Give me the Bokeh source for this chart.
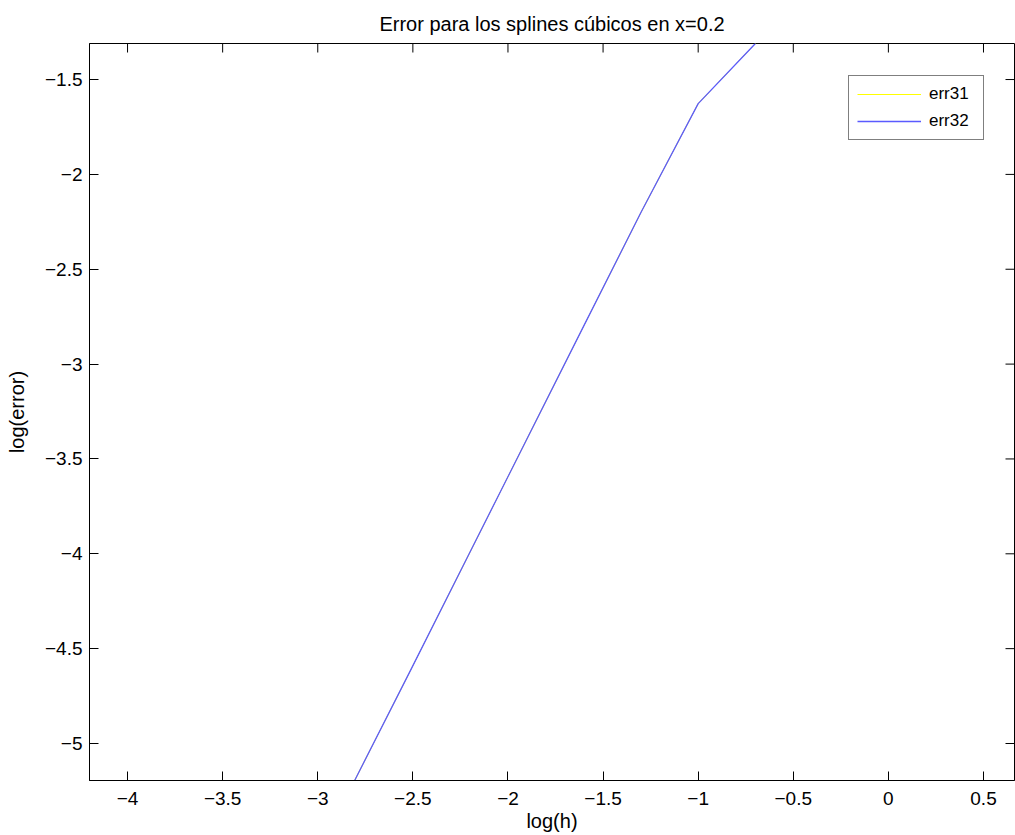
from bokeh.plotting import figure
from bokeh.models import Range1d, LinearAxis, FixedTicker, Legend, LegendItem
from bokeh.embed import file_html
from bokeh.resources import INLINE

# data
log_h = [-2.806, -2.505, -2.204, -1.903, -1.602, -1.301, -1.0, -0.699]
err31 = [-5.195, -4.60, -4.00, -3.40, -2.80, -2.201, -1.627, -1.31]
err32 = [-5.195, -4.60, -4.00, -3.40, -2.80, -2.201, -1.627, -1.31]

x_ticks = [-4, -3.5, -3, -2.5, -2, -1.5, -1, -0.5, 0, 0.5]
y_ticks = [-5, -4.5, -4, -3.5, -3, -2.5, -2, -1.5]

title_text = "Error para los splines cúbicos en x=0.2"
xlabel = "log(h)"
ylabel = "log(error)"
series_names = ["err31", "err32"]

FONT = "Liberation Sans"

W, H = 1015, 835
BL, BR, BT, BB = 89, 1, 43, 55
X0, X1 = -4.2, 0.663
Y0, Y1 = -5.195, -1.31
TICK = 9


def fmt(v):
    return ("%g" % v).replace("-", "\u2212")


p = figure(width=W, height=H, output_backend="svg", toolbar_location=None,
           x_range=Range1d(X0, X1), y_range=Range1d(Y0, Y1),
           min_border_left=BL, min_border_right=BR, min_border_top=BT, min_border_bottom=BB,
           x_axis_location=None, y_axis_location=None)
p.title.text = title_text
p.title.align = "center"
p.title.text_font = FONT
p.title.text_font_size = "20px"
p.title.text_font_style = "normal"
p.title.text_color = "#000000"
p.title.offset = 0
p.title.standoff = 18

p.grid.visible = False
p.background_fill_color = "white"
p.border_fill_color = "white"
p.outline_line_color = "#000000"
p.outline_line_width = 1


def style_axis(ax, ticks):
    ax.ticker = FixedTicker(ticks=ticks)
    ax.major_tick_in = TICK
    ax.major_tick_out = 0
    ax.minor_tick_in = 0
    ax.minor_tick_out = 0
    ax.axis_line_color = "#000000"
    ax.major_tick_line_color = "#000000"
    ax.major_label_text_font = FONT
    ax.major_label_text_font_size = "19px"
    ax.major_label_text_color = "#000000"
    ax.axis_label_text_font = FONT
    ax.axis_label_text_font_size = "20px"
    ax.axis_label_text_font_style = "normal"
    ax.axis_label_text_color = "#000000"
    ax.major_label_overrides = {t: fmt(t) for t in ticks}


xb = LinearAxis(axis_label=xlabel)
style_axis(xb, x_ticks)
xb.major_label_standoff = 11
xb.axis_label_standoff = 2
p.add_layout(xb, "below")

yl = LinearAxis(axis_label=ylabel)
style_axis(yl, y_ticks)
yl.major_label_standoff = 7
yl.axis_label_standoff = 14
p.add_layout(yl, "left")

# inner ticks on the top and right edges of the box
fw = W - BL - BR
fh = H - BT - BB
dx = TICK * (X1 - X0) / fw
dy = TICK * (Y1 - Y0) / fh
p.segment(x0=x_ticks, x1=x_ticks, y0=[Y1] * len(x_ticks), y1=[Y1 - dy] * len(x_ticks),
          line_color="#000000", line_width=1)
p.segment(x0=[X1] * len(y_ticks), x1=[X1 - dx] * len(y_ticks), y0=y_ticks, y1=y_ticks,
          line_color="#000000", line_width=1)

r1 = p.line(log_h, err31, line_color="#ffff00", line_width=1)
r2 = p.line(log_h, err32, line_color="#5a5aff", line_width=1.3)

legend = Legend(items=[LegendItem(label=series_names[0], renderers=[r1]),
                       LegendItem(label=series_names[1], renderers=[r2])],
                location=(759, 640))
legend.border_line_color = "#000000"
legend.border_line_width = 1
legend.background_fill_color = "white"
legend.padding = 8
legend.spacing = 7
legend.margin = 0
legend.label_height = 18
legend.glyph_height = 18
legend.glyph_width = 64
legend.label_standoff = 8
legend.label_width = 46
legend.label_text_font = FONT
legend.label_text_font_size = "17px"
legend.label_text_color = "#000000"
p.add_layout(legend, "center")

open("out.html", "w").write(file_html(p, INLINE))
